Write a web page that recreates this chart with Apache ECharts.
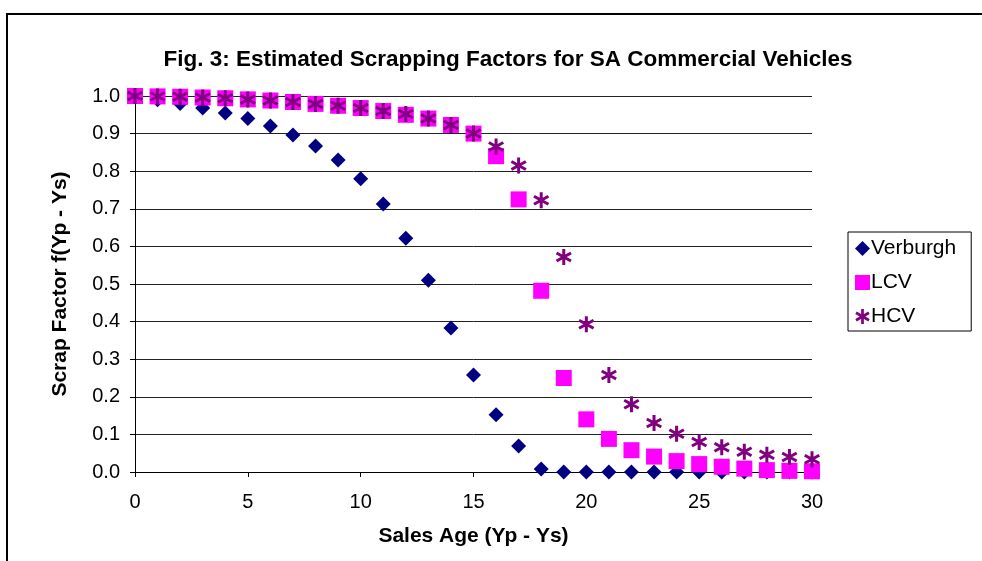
<!DOCTYPE html>
<html>
<head>
<meta charset="utf-8">
<script src="https://cdn.jsdelivr.net/npm/echarts@6/dist/echarts.min.js"></script>
<style>
    html, body { margin: 0; padding: 0; background: #fff; }
    #chart-container { width: 982px; height: 561px; }
</style>
</head>
<body>
<div id="chart-container"></div>
<script>
// sales age (years)
const ages = [0, 1, 2, 3, 4, 5, 6, 7, 8, 9, 10, 11, 12, 13, 14, 15, 16, 17, 18, 19, 20, 21, 22, 23, 24, 25, 26, 27, 28, 29, 30];

// scrapping factors
const verburgh = [1.0, 0.99, 0.98, 0.968, 0.955, 0.94, 0.92, 0.896, 0.867, 0.83, 0.78, 0.713, 0.622, 0.51, 0.383, 0.258, 0.152, 0.069, 0.008, 0.0, 0.0, 0.0, 0.0, 0.0, 0.0, 0.0, 0.0, 0.0, 0.0, 0.0, 0.0];
const lcv = [1.0, 0.999, 0.998, 0.996, 0.994, 0.991, 0.988, 0.984, 0.979, 0.974, 0.968, 0.96, 0.95, 0.94, 0.923, 0.9, 0.84, 0.725, 0.482, 0.25, 0.14, 0.088, 0.058, 0.041, 0.029, 0.021, 0.014, 0.009, 0.005, 0.003, 0.002];
const hcv = [1.0, 0.999, 0.998, 0.996, 0.994, 0.991, 0.988, 0.984, 0.979, 0.974, 0.968, 0.96, 0.952, 0.94, 0.923, 0.9, 0.866, 0.815, 0.723, 0.572, 0.393, 0.258, 0.18, 0.13, 0.102, 0.08, 0.066, 0.054, 0.046, 0.04, 0.034];

const seriesNames = ['Verburgh', 'LCV', 'HCV'];

// 星號標記 (三條交叉的粗條)
const starPath = 'path://M41 0L59 0L59 100L41 100Z' +
    'M11.2 82.79L2.2 67.21L88.8 17.21L97.8 32.79Z' +
    'M97.8 67.21L88.8 82.79L2.2 32.79L11.2 17.21Z';

const pairs = (ys) => ages.map((x, i) => [x, ys[i]]);

const chart = echarts.init(document.getElementById('chart-container'));

const font = 'Liberation Sans, Arial, sans-serif';

const option = {
    animation: false,
    backgroundColor: '#fff',
    graphic: [
        {
            type: 'rect',
            shape: { x: 7, y: 14, width: 1000, height: 600 },
            style: { fill: 'none', stroke: '#000', lineWidth: 2 },
            silent: true
        }
    ],
    title: {
        text: 'Fig. 3: Estimated Scrapping Factors for SA Commercial Vehicles',
        left: 503,
        top: 43,
        textAlign: 'center',
        textStyle: {
            fontFamily: font,
            fontSize: 22.5,
            fontWeight: 'bold',
            color: '#000'
        }
    },
    legend: {
        orient: 'vertical',
        left: 848,
        top: 232,
        padding: [6, 15, 4, 7],
        itemGap: 13,
        itemWidth: 15,
        itemHeight: 15,
        borderColor: '#000',
        borderWidth: 1,
        textStyle: {
            fontFamily: font,
            fontSize: 21,
            color: '#000',
            padding: [0, 0, 0, -4]
        },
        data: [
            { name: 'Verburgh', icon: 'diamond' },
            { name: 'LCV', icon: 'rect' },
            { name: 'HCV', icon: starPath }
        ]
    },
    grid: {
        left: 135,
        right: 170,
        top: 96,
        bottom: 89
    },
    xAxis: {
        type: 'value',
        min: 0,
        max: 30,
        interval: 5,
        name: 'Sales Age (Yp - Ys)',
        nameLocation: 'middle',
        nameGap: 54,
        nameTextStyle: {
            fontFamily: font,
            fontSize: 21,
            fontWeight: 'bold',
            color: '#000'
        },
        axisLine: { lineStyle: { color: '#000', width: 1 } },
        axisTick: { show: true, length: 5, lineStyle: { color: '#000' } },
        axisLabel: { fontFamily: font, fontSize: 20, color: '#000', margin: 20 },
        splitLine: { show: false }
    },
    yAxis: {
        type: 'value',
        min: 0,
        max: 1,
        interval: 0.1,
        name: 'Scrap Factor f(Yp - Ys)',
        nameLocation: 'middle',
        nameGap: 64,
        nameTextStyle: {
            fontFamily: font,
            fontSize: 21,
            fontWeight: 'bold',
            color: '#000'
        },
        axisLine: { show: true, lineStyle: { color: '#000', width: 1 } },
        axisTick: { show: true, length: 5, lineStyle: { color: '#000' } },
        axisLabel: {
            fontFamily: font,
            fontSize: 20,
            color: '#000',
            margin: 15,
            formatter: (v) => v.toFixed(1)
        },
        splitLine: { show: true, lineStyle: { color: '#222', width: 1 } }
    },
    series: [
        {
            name: seriesNames[0],
            type: 'scatter',
            symbol: 'diamond',
            symbolSize: 15,
            itemStyle: { color: '#000080', opacity: 1 },
            data: pairs(verburgh)
        },
        {
            name: seriesNames[1],
            type: 'scatter',
            symbol: 'rect',
            symbolSize: 16,
            itemStyle: { color: '#FF00FF', opacity: 1 },
            data: pairs(lcv)
        },
        {
            name: seriesNames[2],
            type: 'scatter',
            symbol: starPath,
            symbolSize: 16,
            itemStyle: { color: '#800080', opacity: 1 },
            data: pairs(hcv)
        }
    ]
};

chart.setOption(option);
</script>
</body>
</html>
